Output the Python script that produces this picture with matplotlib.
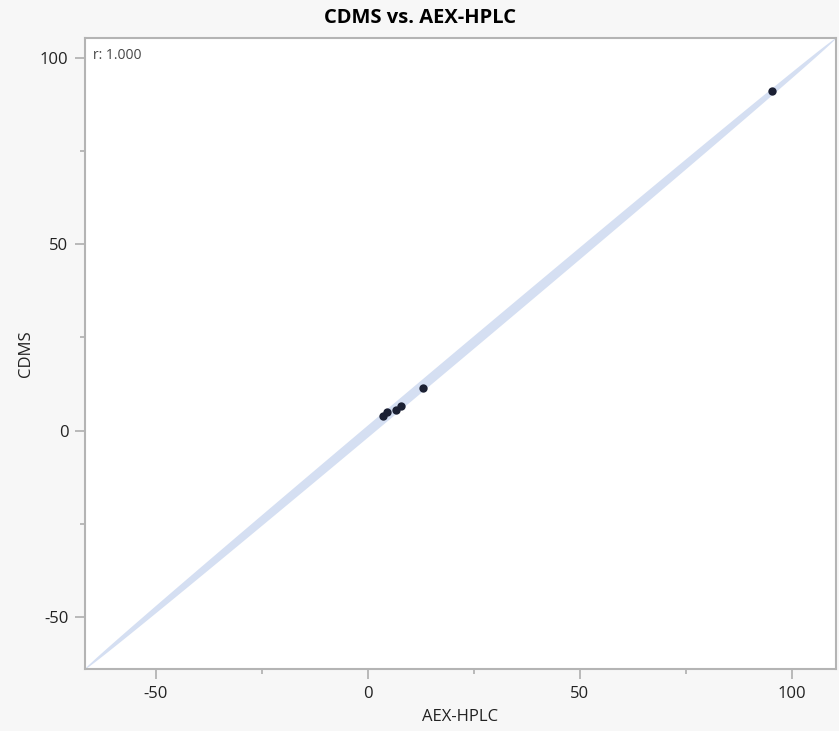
# CDMS vs. AEX-HPLC scatter with 95% density ellipse

import numpy as np
import matplotlib.pyplot as plt
from matplotlib.ticker import MultipleLocator

plt.rcParams['font.family'] = ['Open Sans', 'DejaVu Sans']
plt.rcParams['axes.unicode_minus'] = False

# values
aex_hplc = [3.69, 4.52, 6.75, 7.81, 13.16, 95.43]
cdms = [3.85, 4.93, 5.61, 6.68, 11.48, 91.0]
r_label = "r: 1.000"
x_ticks = [-50, 0, 50, 100]
y_ticks = [-50, 0, 50, 100]

x = np.array(aex_hplc)
y = np.array(cdms)

# density ellipse (95%, chi-square with 2 dof)
center = np.array([x.mean(), y.mean()])
cov = np.cov(x, y)
c = 5.991
vals, vecs = np.linalg.eigh(cov)
t = np.linspace(0, 2 * np.pi, 400)
circle = np.vstack([np.cos(t), np.sin(t)])
ell = center[:, None] + np.sqrt(c) * vecs @ (np.sqrt(vals)[:, None] * circle)

fig = plt.figure(figsize=(8.39, 7.31), dpi=100, facecolor='#f7f7f7')
ax = fig.add_axes([0.1013, 0.0844, 0.8951, 0.8632])
ax.set_facecolor('white')

ax.fill(ell[0], ell[1], color='#d5dff2', lw=0, zorder=1)
ax.scatter(x, y, s=36, color='#1b2033', zorder=3, linewidths=0)

# axes span the ellipse extents
half_x = np.sqrt(c * cov[0, 0])
half_y = np.sqrt(c * cov[1, 1])
ax.set_xlim(center[0] - half_x, center[0] + half_x)
ax.set_ylim(center[1] - half_y, center[1] + half_y)

ax.set_xticks(x_ticks)
ax.set_yticks(y_ticks)
ax.xaxis.set_minor_locator(MultipleLocator(25))
ax.yaxis.set_minor_locator(MultipleLocator(25))
ax.tick_params(which='major', length=7, width=1.1, color='#a8a8a8',
               labelsize=12, labelcolor='#222222', pad=5)
ax.tick_params(which='minor', length=3.5, width=1.1, color='#a8a8a8')

for s in ax.spines.values():
    s.set_color('#b4b4b4')
    s.set_linewidth(1.5)

ax.set_xlabel('AEX-HPLC', fontsize=12, color='#222222', labelpad=5)
ax.set_ylabel('CDMS', fontsize=12, color='#222222', labelpad=4)
fig.text(0.5, 1 - 18 / 731, 'CDMS vs. AEX-HPLC', ha='center', va='center',
         fontsize=14.5, fontweight='bold', color='black')
ax.text(0.01, 0.985, r_label, transform=ax.transAxes, ha='left', va='top',
        fontsize=10, color='#444444')

fig.savefig('out.png', dpi=100, facecolor=fig.get_facecolor())
